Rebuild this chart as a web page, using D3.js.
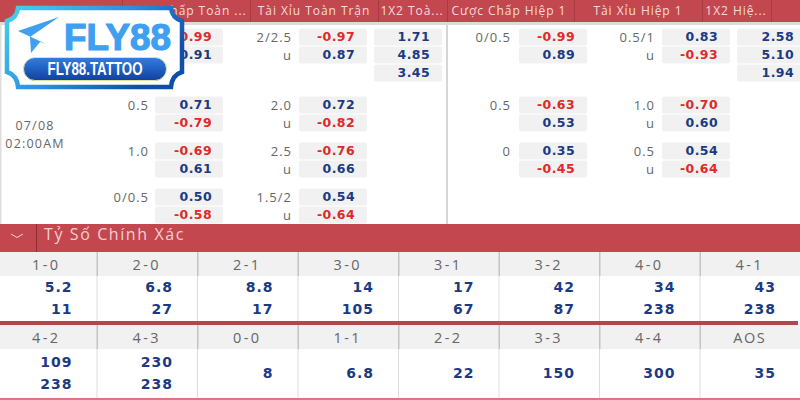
<!DOCTYPE html>
<html lang="en">
<head>
<meta charset="utf-8">
<script src="https://d3js.org/d3.v7.min.js"></script>
<style>
  html, body { margin: 0; padding: 0; background: #fff; }
  svg { display: block; font-family: "Open Sans", sans-serif; }
</style>
</head>
<body>
<script>
// market headers along the top
var marketHeaders = ["Cược Chấp Toàn ...", "Tài Xỉu Toàn Trận", "1X2 Toà...", "Cược Chấp Hiệp 1", "Tài Xỉu Hiệp 1", "1X2 Hiệ..."];
var dateLines = ["07/08", "02:00AM"];

// one entry for each odds row, in the order they appear
var oddsRows = [0, 1, 2, 3, 4, 5, 6, 7, 8];
var ftHcpLine = ["", "", "", "0.5", "", "1.0", "", "0/0.5", ""];
var ftHcpOdds = ["-0.99", "0.91", "", "0.71", "-0.79", "-0.69", "0.61", "0.50", "-0.58"];
var ftOuLine = ["2/2.5", "u", "", "2.0", "u", "2.5", "u", "1.5/2", "u"];
var ftOuOdds = ["-0.97", "0.87", "", "0.72", "-0.82", "-0.76", "0.66", "0.54", "-0.64"];
var ft1x2Odds = ["1.71", "4.85", "3.45", "", "", "", "", "", ""];
var h1HcpLine = ["0/0.5", "", "", "0.5", "", "0", "", "", ""];
var h1HcpOdds = ["-0.99", "0.89", "", "-0.63", "0.53", "0.35", "-0.45", "", ""];
var h1OuLine = ["0.5/1", "u", "", "1.0", "u", "0.5", "u", "", ""];
var h1OuOdds = ["0.83", "-0.93", "", "-0.70", "0.60", "0.54", "-0.64", "", ""];
var h1x2Odds = ["2.58", "5.10", "1.94", "", "", "", "", "", ""];

// correct score section
var scoreTitle = "Tỷ Số Chính Xác";
var scoreLabelsA = ["1-0", "2-0", "2-1", "3-0", "3-1", "3-2", "4-0", "4-1"];
var scoreHomeA = ["5.2", "6.8", "8.8", "14", "17", "42", "34", "43"];
var scoreAwayA = ["11", "27", "17", "105", "67", "87", "238", "238"];
var scoreLabelsB = ["4-2", "4-3", "0-0", "1-1", "2-2", "3-3", "4-4", "AOS"];
var scoreHomeB = ["109", "230", "8", "6.8", "22", "150", "300", "35"];
var scoreAwayB = ["238", "238", "", "", "", "", "", ""];

var RED = "#c3474f", GREY = "#f1f1f1", BLUE = "#1c3a82", ODD_RED = "#dd2a2a", TXT = "#666666";
var BOLD_FONT = "'DejaVu Sans', sans-serif";

var svg = d3.select("body").append("svg").attr("width", 800).attr("height", 400);

function rect(x, y, w, h, fill) {
  return svg.append("rect").attr("x", x).attr("y", y).attr("width", w).attr("height", h).attr("fill", fill);
}
function label(x, y, str, anchor, color, size, spacing) {
  return svg.append("text").attr("x", x).attr("y", y).attr("dy", "0.35em")
    .attr("text-anchor", anchor).attr("fill", color)
    .attr("font-size", size).attr("letter-spacing", spacing).text(str);
}
function value(x, y, str, color, size, spacing) {
  return label(x, y, str, "end", color, size, spacing)
    .attr("font-family", BOLD_FONT).attr("font-weight", 700);
}

// ---- top header
rect(0, 0, 800, 22, RED);
rect(0, 22, 800, 3, "#dcdcdc");
var headerCenter = [186, 314, 412, 509, 638, 736];
marketHeaders.forEach(function(h, i) {
  label(headerCenter[i], 11, h, "middle", "#f6dcdc", 12, 0.95);
});
[122, 250, 378, 447, 574, 702, 771].forEach(function(x) { rect(x, 0, 1, 22, "#a83a42"); });
rect(0, 25, 1.5, 199, "#dddddd");
rect(446, 25, 2, 199, "#d6d6d6");

// ---- odds grid
var rowY = d3.scaleOrdinal().domain(oddsRows).range([37, 55, 73, 105, 123, 151, 169, 197, 215]);

function oddsColumn(values, cellLeft, textRight) {
  oddsRows.forEach(function(r, i) {
    if (values[i] === "") return;
    svg.append("rect").attr("x", cellLeft).attr("y", rowY(r) - 8.5).attr("width", 68).attr("height", 17)
      .attr("rx", 2).attr("fill", GREY);
    value(textRight, rowY(r), values[i], values[i][0] === "-" ? ODD_RED : BLUE, 12.5, 0.4);
  });
}
function lineColumn(values, textRight) {
  oddsRows.forEach(function(r, i) {
    if (values[i] !== "") label(textRight, rowY(r), values[i], "end", TXT, 13, 1);
  });
}
lineColumn(ftHcpLine, 149);
oddsColumn(ftHcpOdds, 155, 212);
lineColumn(ftOuLine, 292);
oddsColumn(ftOuOdds, 299, 355);
oddsColumn(ft1x2Odds, 374, 430);
lineColumn(h1HcpLine, 511);
oddsColumn(h1HcpOdds, 519, 575);
lineColumn(h1OuLine, 655);
oddsColumn(h1OuOdds, 662, 718);
oddsColumn(h1x2Odds, 737, 794);

label(35, 126, dateLines[0], "middle", TXT, 12.5, 1.2);
label(35, 143.5, dateLines[1], "middle", TXT, 12.5, 1.2);

// ---- correct score band
rect(0, 224, 800, 28, RED);
rect(36, 224, 1, 28, "#8f2d34");
svg.append("path").attr("d", d3.line()([[11, 234], [17, 237.5], [23, 234]]))
  .attr("fill", "none").attr("stroke", "#f3d5d5").attr("stroke-width", 1);
label(44, 234, scoreTitle, "start", "#f3cfcf", 16, 1.6);

var colX = d3.scaleBand().domain(d3.range(8)).range([-4, 800]);

function scoreRow(labels, home, away, top, bottom) {
  var headH = 24;
  rect(0, top, 800, headH, GREY);
  var mid = (top + headH + bottom) / 2;
  labels.forEach(function(l, i) {
    var x = colX(i), w = colX.bandwidth();
    if (i > 0) {
      rect(x, top, 1.5, headH, "#c4c4c4");
      rect(x, top + headH, 1, bottom - top - headH, "#dddddd");
    }
    label(x + w / 2, top + 13, l, "middle", TXT, 14.5, l === "AOS" ? 1.6 : 2.4);
    if (away[i] === "") {
      value(x + w - 24, mid, home[i], BLUE, 14, 1);
    } else {
      value(x + w - 24, mid - 11, home[i], BLUE, 14, 1);
      value(x + w - 24, mid + 10.5, away[i], BLUE, 14, 1);
    }
  });
}
scoreRow(scoreLabelsA, scoreHomeA, scoreAwayA, 252, 321);
rect(0, 321, 798, 4, "#b8434b");
scoreRow(scoreLabelsB, scoreHomeB, scoreAwayB, 325, 398);
rect(0, 398, 800, 2, "#d9787e");

// ---- logo
var logo = svg.append("g");
var defs = svg.append("defs");
var frame = defs.append("linearGradient").attr("id", "frame").attr("x1", 0).attr("y1", 0).attr("x2", 1).attr("y2", 0.5);
frame.append("stop").attr("offset", "0%").attr("stop-color", "#45d3e4");
frame.append("stop").attr("offset", "55%").attr("stop-color", "#2f8fe0");
frame.append("stop").attr("offset", "100%").attr("stop-color", "#0f4fa8");
var pill = defs.append("linearGradient").attr("id", "pill").attr("x1", 0).attr("y1", 0).attr("x2", 0).attr("y2", 1);
pill.append("stop").attr("offset", "0%").attr("stop-color", "#2f7fe0");
pill.append("stop").attr("offset", "100%").attr("stop-color", "#12409f");

var outline = "M18,8 H171 Q172,18 182,21 V72 Q172,75 171,87 H18 Q17,75 7,72 V21 Q17,18 18,8 Z";
logo.append("path").attr("d", outline).attr("fill", "#fff").attr("stroke", "url(#frame)").attr("stroke-width", 4.5);
logo.append("path").attr("d", "M18,31 L59,17 L30,37 L31,53 L40,42 L46,44 Z").attr("fill", "#3f9ff0");
logo.append("text").attr("x", 64).attr("y", 50).attr("fill", "#3f9ff0").attr("stroke", "#3f9ff0").attr("stroke-width", 1.2)
  .attr("font-family", "'Liberation Sans', sans-serif").attr("font-weight", 700)
  .attr("font-size", 37).attr("textLength", 107).attr("lengthAdjust", "spacingAndGlyphs").text("FLY88");
logo.append("rect").attr("x", 23.5).attr("y", 57.5).attr("width", 143).attr("height", 23).attr("rx", 11.5)
  .attr("fill", "url(#pill)").attr("stroke", "#d8e6a0").attr("stroke-width", 1);
logo.append("text").attr("x", 95).attr("y", 75).attr("text-anchor", "middle").attr("fill", "#fff")
  .attr("font-family", "'Liberation Sans', sans-serif").attr("font-weight", 700)
  .attr("font-size", 18).attr("textLength", 95).attr("lengthAdjust", "spacingAndGlyphs").text("FLY88.TATTOO");
</script>
</body>
</html>
